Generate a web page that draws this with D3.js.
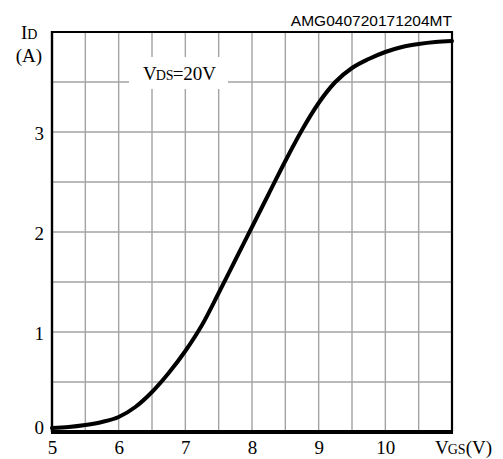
<!doctype html>
<html>
<head>
<meta charset="utf-8">
<title>ID vs VGS</title>
<script src="https://cdn.jsdelivr.net/npm/d3@7"></script>
<style>
  body { margin: 0; background: #fff; }
  svg { display: block; }
  .tick text { font-family: "Liberation Serif", "Times New Roman", serif; font-size: 19px; fill: #000; }
</style>
</head>
<body>
<svg id="chart" width="503" height="459"></svg>
<script>
// transfer characteristic
var vgs = [5.0, 5.25, 5.5, 5.75, 6.0, 6.25, 6.5, 6.75, 7.0, 7.25, 7.5, 7.75, 8.0,
           8.25, 8.5, 8.75, 9.0, 9.25, 9.5, 9.75, 10.0, 10.25, 10.5, 10.75, 11.0];
var id  = [0.04, 0.05, 0.07, 0.10, 0.15, 0.25, 0.40, 0.59, 0.81, 1.07, 1.39, 1.72, 2.05,
           2.38, 2.71, 3.02, 3.29, 3.50, 3.64, 3.73, 3.80, 3.85, 3.88, 3.90, 3.91];
var xTicks = [5, 6, 7, 8, 9, 10];
var yTicks = [0, 1, 2, 3];
var xGrid = d3.range(5.5, 11, 0.5);
var yGrid = d3.range(0.5, 4, 0.5);

var svg = d3.select('#chart');
var x = d3.scaleLinear().domain([5, 11]).range([52, 452]);
var y = d3.scaleLinear().domain([0, 4]).range([432, 32]);
var serif = '"Liberation Serif", "Times New Roman", serif';

// grid
svg.append('g').selectAll('line').data(xGrid).enter().append('line')
    .attr('x1', function(d){ return x(d); }).attr('x2', function(d){ return x(d); })
    .attr('y1', y(0)).attr('y2', y(4))
    .attr('stroke', '#a3a3a3').attr('stroke-width', 1.4);
svg.append('g').selectAll('line').data(yGrid).enter().append('line')
    .attr('x1', x(5)).attr('x2', x(11))
    .attr('y1', function(d){ return y(d); }).attr('y2', function(d){ return y(d); })
    .attr('stroke', '#a3a3a3').attr('stroke-width', 1.4);

// condition label with white box over the grid
svg.append('rect').attr('x', 129).attr('y', 57).attr('width', 99).attr('height', 32).attr('fill', '#fff');
var cond = svg.append('text').attr('x', 143).attr('y', 80)
    .style('font-family', serif).style('font-size', '19px');
cond.append('tspan').text('V');
cond.append('tspan').style('font-size', '14px').attr('dx', -1).text('DS');
cond.append('tspan').attr('dx', -1).text('=20V');

// frame
svg.append('line').attr('x1', x(5)).attr('x2', x(11)).attr('y1', y(4)).attr('y2', y(4))
    .attr('stroke', '#000').attr('stroke-width', 2.2);
svg.append('line').attr('x1', x(5)).attr('x2', x(5)).attr('y1', y(4) - 1).attr('y2', y(0))
    .attr('stroke', '#000').attr('stroke-width', 2.4);
svg.append('line').attr('x1', x(11)).attr('x2', x(11)).attr('y1', y(4) - 1).attr('y2', y(0))
    .attr('stroke', '#000').attr('stroke-width', 2.2);

// curve
var pts = vgs.map(function(v, i){ return [v, id[i]]; });
svg.append('path').datum(pts)
    .attr('fill', 'none').attr('stroke', '#000').attr('stroke-width', 4)
    .attr('stroke-linecap', 'round')
    .attr('d', d3.line().x(function(d){ return x(d[0]); }).y(function(d){ return y(d[1]); })
        .curve(d3.curveMonotoneX));

svg.append('line').attr('x1', x(5) - 1).attr('x2', x(11) + 1).attr('y1', y(0)).attr('y2', y(0))
    .attr('stroke', '#000').attr('stroke-width', 4);

// axes (labels only)
var xAxis = svg.append('g').attr('transform', 'translate(0,' + (y(0) + 4) + ')')
    .call(d3.axisBottom(x).tickValues(xTicks).tickSize(0).tickPadding(4).tickFormat(d3.format('d')));
xAxis.select('.domain').remove();
xAxis.selectAll('.tick text').attr('dy', '0.72em');

var yAxis = svg.append('g').attr('transform', 'translate(' + (x(5) - 8) + ',0)')
    .call(d3.axisLeft(y).tickValues(yTicks).tickSize(0).tickPadding(0).tickFormat(d3.format('d')));
yAxis.select('.domain').remove();
yAxis.selectAll('.tick text').attr('dy', function(d){ return d === 0 ? '0.08em' : '0.38em'; });

// unit labels
var idl = svg.append('text').attr('x', 21).attr('y', 39).style('font-family', serif).style('font-size', '19px');
idl.append('tspan').text('I');
idl.append('tspan').style('font-size', '14px').text('D');
svg.append('text').attr('x', 29).attr('y', 62).attr('text-anchor', 'middle')
    .style('font-family', serif).style('font-size', '19px').text('(A)');

var vl = svg.append('text').attr('x', 435).attr('y', 454).style('font-family', serif).style('font-size', '19px');
vl.append('tspan').text('V');
vl.append('tspan').style('font-size', '14px').attr('dx', -1).text('GS');
vl.append('tspan').text('(V)');

svg.append('text').attr('x', 452).attr('y', 26).attr('text-anchor', 'end')
    .style('font-family', '"Liberation Sans", Arial, sans-serif').style('font-size', '15.5px')
    .text('AMG040720171204MT');
</script>
</body>
</html>
